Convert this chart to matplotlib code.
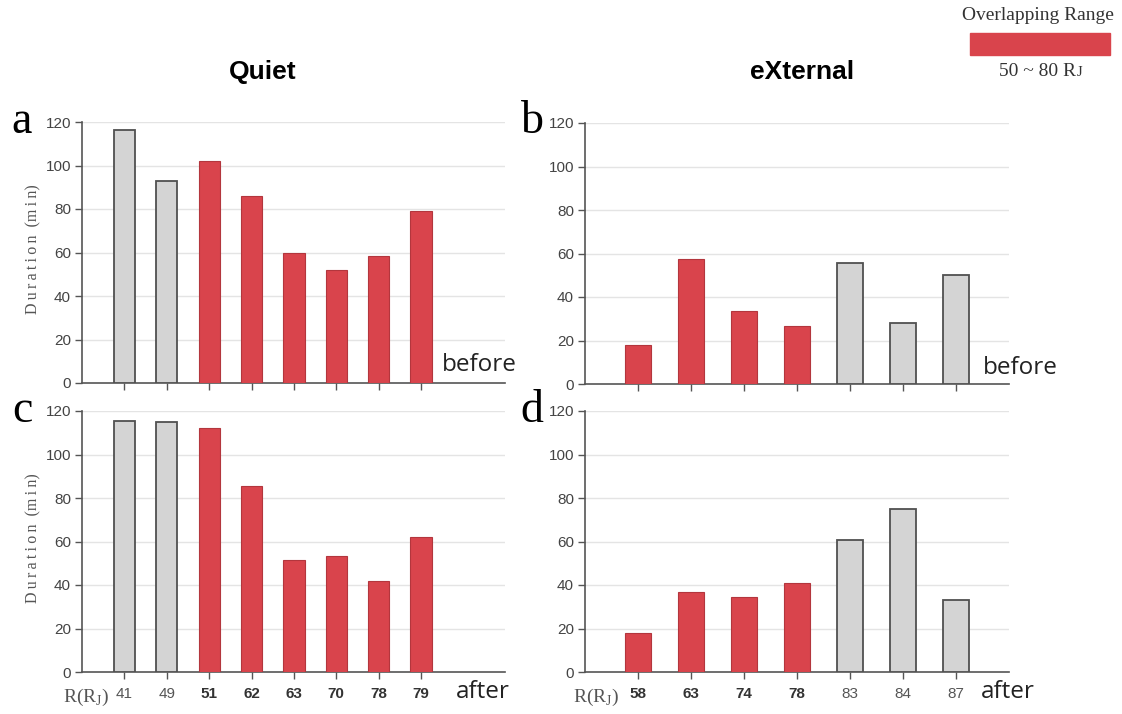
import matplotlib
matplotlib.use("Agg")
import matplotlib.pyplot as plt
from matplotlib.patches import Rectangle

# ---------------- data ----------------
quiet_labels = ['41', '49', '51', '62', '63', '70', '78', '79']
quiet_before = [116.5, 93, 102, 86, 60, 52, 58.5, 79]
quiet_after = [115.5, 115, 112, 85.5, 51.5, 53.5, 42, 62]

external_labels = ['58', '63', '74', '78', '83', '84', '87']
external_before = [18, 57.5, 33.5, 26.5, 55.5, 28, 50]
external_after = [18, 37, 34.5, 41, 60.5, 75, 33]

overlap_low, overlap_high = 50, 80
yticks = [0, 20, 40, 60, 80, 100, 120]

RED = '#d9444c'
RED_EDGE = '#b3363d'
GRAY = '#d4d4d4'
GRAY_EDGE = '#505050'
AXC = '#555555'

fig = plt.figure(figsize=(11.22, 7.14), dpi=100)
W, H = 1122, 714


def ax_rect(l, r, b, t):
    return [l / W, 1 - b / H, (r - l) / W, (b - t) / H]


def draw(ax, labels, values, show_xlabels):
    n = len(labels)
    xs = list(range(n))
    overl = [overlap_low <= int(l) <= overlap_high for l in labels]
    for x, v, o in zip(xs, values, overl):
        ax.bar(x, v, width=0.5, color=RED if o else GRAY,
               edgecolor=RED_EDGE if o else GRAY_EDGE,
               linewidth=0.8 if o else 1.3, zorder=3)
    ax.set_xlim(-1, n + 0.98 if n == 8 else n)
    ax.set_ylim(0, 120)
    ax.set_yticks(yticks)
    for y in yticks[1:]:
        ax.axhline(y, color='#e4e4e4', lw=1, zorder=1)
    for s in ['top', 'right']:
        ax.spines[s].set_visible(False)
    for s in ['left', 'bottom']:
        ax.spines[s].set_color(AXC)
        ax.spines[s].set_linewidth(1.2)
    ax.tick_params(axis='both', colors=AXC, length=5, width=1, direction='out')
    ax.tick_params(axis='y', labelsize=11, labelcolor='#444444', pad=3)
    for lab in ax.get_yticklabels():
        lab.set_family('Liberation Sans')
    ax.set_xticks(xs)
    if show_xlabels:
        ax.set_xticklabels(labels)
        for lab, o in zip(ax.get_xticklabels(), overl):
            lab.set_family('Liberation Sans')
            lab.set_fontsize(11)
            if o:
                lab.set_fontweight('bold')
                lab.set_color('#333333')
            else:
                lab.set_color('#555555')
        ax.tick_params(axis='x', pad=6)
    else:
        ax.set_xticklabels([])


axa = fig.add_axes(ax_rect(82, 505, 383, 122))
axb = fig.add_axes(ax_rect(585, 1009, 384, 123))
axc = fig.add_axes(ax_rect(82, 505, 672, 411))
axd = fig.add_axes(ax_rect(585, 1009, 672, 411))

draw(axa, quiet_labels, quiet_before, False)
draw(axb, external_labels, external_before, False)
draw(axc, quiet_labels, quiet_after, True)
draw(axd, external_labels, external_after, True)

# y labels (letter-spaced)
ylab = '\u2009'.join('Duration') + '  ' + '(' + '\u2009'.join('min') + ')'
for cy in [249, 538]:
    fig.text(33 / W, 1 - cy / H, ylab, rotation=90, ha='center', va='center',
             fontsize=11.5, family='Liberation Serif', color='#555555')

# titles
fig.text(263 / W, 1 - 72 / H, 'Quiet', ha='center', va='center', fontsize=19,
         fontweight='bold', family='Liberation Sans')
fig.text(802 / W, 1 - 72 / H, 'eXternal', ha='center', va='center', fontsize=19,
         fontweight='bold', family='Liberation Sans')

# panel letters
for lx, ly, t in [(22, 122, 'a'), (532, 122, 'b'), (22, 411, 'c'), (532, 411, 'd')]:
    fig.text(lx / W, 1 - ly / H, t, ha='center', va='center', fontsize=33,
             family='Liberation Serif')

# before / after
for tx, ty, t in [(479, 365, 'before'), (1020, 368, 'before'),
                  (483, 692, 'after'), (1008, 692, 'after')]:
    fig.text(tx / W, 1 - ty / H, t, ha='center', va='center', fontsize=17.5,
             family='Open Sans', color='#222222')

# R(RJ) labels
for tx in [86, 596]:
    fig.text(tx / W, 1 - 697 / H, r'R(R$_\mathregular{J}$)', ha='center', va='center',
             fontsize=14, family='Liberation Serif', color='#555555')

# legend
fig.text(1038 / W, 1 - 16 / H, 'Overlapping Range', ha='center', va='center',
         fontsize=14, family='Liberation Serif', color='#333333')
fig.patches.append(Rectangle((970 / W, 1 - 55 / H), 140 / W, 22 / H,
                             transform=fig.transFigure, color=RED, figure=fig))
fig.text(1076 / W, 1 - 76 / H, '50 ~ 80 R', ha='right', va='baseline',
         fontsize=14, family='Liberation Serif', color='#333333')
fig.text(1077 / W, 1 - 76 / H, 'J', ha='left', va='baseline',
         fontsize=10.5, family='Liberation Serif', color='#333333')

fig.savefig('out.png', dpi=100)
